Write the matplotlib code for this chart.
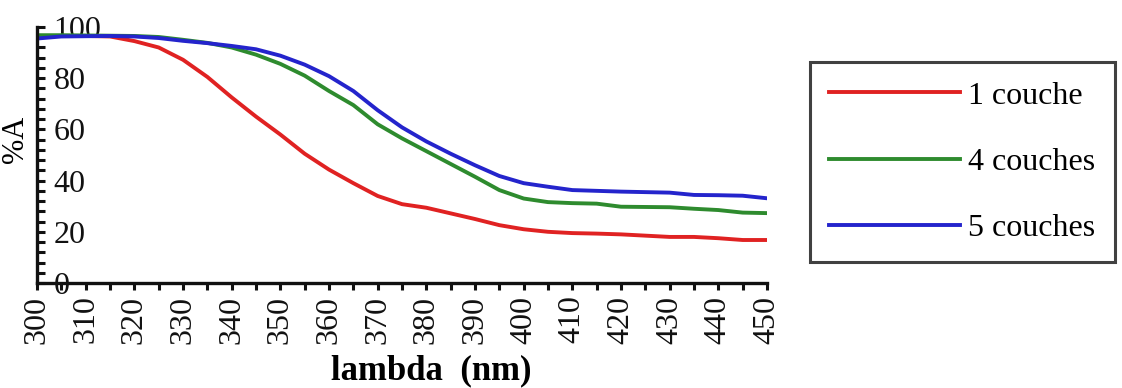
import matplotlib
matplotlib.use("Agg")
import matplotlib.pyplot as plt
from matplotlib.ticker import MultipleLocator

# ----------------------------
# Data
# ----------------------------
wavelength = [300, 305, 310, 315, 320, 325, 330, 335, 340, 345, 350, 355, 360,
              365, 370, 375, 380, 385, 390, 395, 400, 405, 410, 415, 420, 425,
              430, 435, 440, 445, 450]

couche_1 = [96.5, 96.5, 96.5, 96.3, 94.5, 92.0, 87.2, 80.5, 72.5, 65.0, 58.0, 50.5,
            44.3, 39.0, 34.0, 30.8, 29.4, 27.2, 25.0, 22.6, 21.0, 20.0, 19.5, 19.3,
            19.0, 18.5, 18.0, 18.0, 17.5, 16.8, 16.8]

couches_4 = [96.8, 96.8, 96.7, 96.6, 96.5, 96.1, 95.0, 93.8, 92.0, 89.2, 85.6, 81.0,
             75.0, 69.5, 62.0, 56.5, 51.5, 46.5, 41.5, 36.3, 33.0, 31.6, 31.2, 31.0,
             29.8, 29.7, 29.6, 29.0, 28.5, 27.5, 27.3]

couches_5 = [95.5, 96.3, 96.4, 96.5, 96.3, 95.7, 94.6, 93.7, 92.6, 91.3, 88.8, 85.3,
             80.8, 75.0, 67.5, 60.8, 55.3, 50.5, 46.0, 41.8, 39.0, 37.6, 36.3, 36.0,
             35.7, 35.5, 35.3, 34.4, 34.3, 34.1, 33.1]

labels = ["1 couche", "4 couches", "5 couches"]
colors = ["#e02222", "#2e8b2e", "#2424cc"]

plt.rcParams['font.family'] = ['Liberation Serif', 'DejaVu Serif']

fig = plt.figure(figsize=(11.22, 3.88), dpi=100)
ax = fig.add_axes([0.033, 0.2706, 0.6506, 0.6598])

for series, lab, col in zip([couche_1, couches_4, couches_5], labels, colors):
    ax.plot(wavelength, series, color=col, lw=2.8, label=lab)

ax.set_xlim(300, 450)
ax.set_ylim(0, 100)

for side in ["top", "right"]:
    ax.spines[side].set_visible(False)
for side in ["left", "bottom"]:
    ax.spines[side].set_linewidth(2.4)
    ax.spines[side].set_color("#111111")

# x ticks: every 5 nm, labels every 10, rotated
ax.xaxis.set_major_locator(MultipleLocator(10))
ax.xaxis.set_minor_locator(MultipleLocator(5))
ax.tick_params(axis="x", which="both", direction="out", length=5, width=2.2,
               colors="#111111", labelsize=23, pad=4)
for t in ax.get_xticklabels():
    t.set_rotation(90)

# y ticks: inside, labels drawn inside the plot
ax.yaxis.set_major_locator(MultipleLocator(20))
ax.yaxis.set_minor_locator(MultipleLocator(4))
ax.tick_params(axis="y", which="both", direction="in", length=6, width=2.2,
               colors="#111111", labelsize=23, pad=-12)
for t in ax.get_yticklabels():
    t.set_horizontalalignment("left")
    t.set_verticalalignment("center_baseline")

ax.set_xlabel("lambda  (nm)", fontsize=25, fontweight="bold")
ax.xaxis.set_label_coords(0.54, -0.28)
ax.set_ylabel("%A", fontsize=22)
ax.yaxis.set_label_coords(-0.01, 0.56)

leg = fig.legend(loc="upper left", bbox_to_anchor=(0.722, 0.84), fontsize=23,
                 frameon=True, fancybox=False, handlelength=4.1, labelspacing=1.15,
                 borderpad=0.6, handletextpad=0.25, borderaxespad=0)
leg.get_frame().set_edgecolor("#111111")
leg.get_frame().set_linewidth(2.2)

plt.savefig("out.png", dpi=100)
plt.close()
